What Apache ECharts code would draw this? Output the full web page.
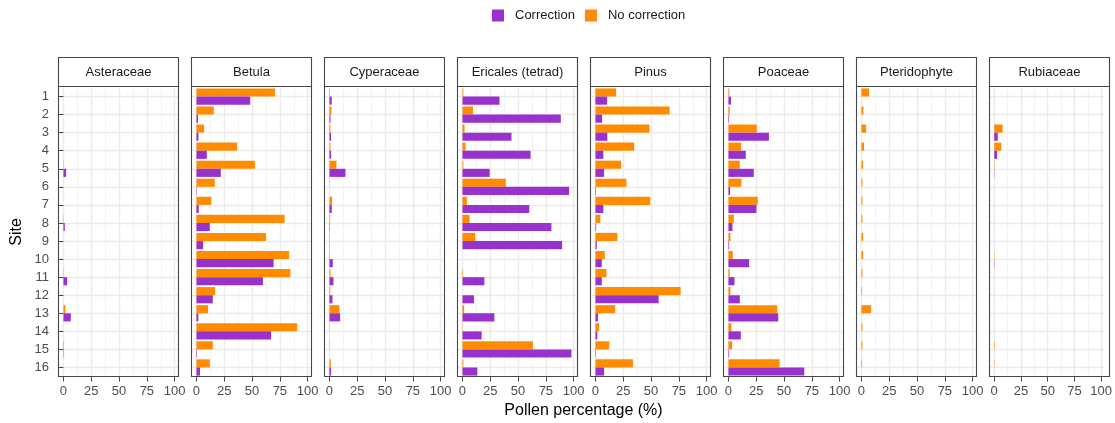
<!DOCTYPE html>
<html>
<head>
<meta charset="utf-8">
<script src="https://cdn.jsdelivr.net/npm/echarts@6/dist/echarts.min.js"></script>
<style>
  html, body { margin: 0; padding: 0; background: #ffffff; }
  #chart { width: 1115px; height: 423px; }
</style>
</head>
<body>
<div id="chart"></div>
<script>
// Sites (rows) and taxa (facets)
const sites = ['1','2','3','4','5','6','7','8','9','10','11','12','13','14','15','16'];
const taxa = ['Asteraceae','Betula','Cyperaceae','Ericales (tetrad)','Pinus','Poaceae','Pteridophyte','Rubiaceae'];

// Axis tick values (pollen percentage)
const xTicks = [0, 25, 50, 75, 100];
const xMinorTicks = [12.5, 37.5, 62.5, 87.5];

// Pollen percentage per site, with and without correction
const asteraceaeCorrection   = [0, 0, 0, 0, 2.4, 0, 0, 1.2, 0, 0, 3.3, 0, 6.6, 0, 0.3, 0];
const asteraceaeNoCorrection = [0, 0, 0, 0, 0.3, 0, 0, 0.3, 0, 0, 0.3, 0, 1.8, 0, 0.5, 0];

const betulaCorrection   = [48.4, 1.4, 1.8, 9.3, 21.9, 0.4, 2.1, 12.0, 6.0, 69.4, 59.8, 14.7, 1.7, 67.1, 0.5, 3.2];
const betulaNoCorrection = [70.7, 15.6, 6.9, 36.6, 52.6, 16.5, 13.4, 79.3, 62.5, 83.3, 84.5, 16.8, 10.5, 90.5, 14.7, 12.0];

const cyperaceaeCorrection   = [2.1, 0.9, 1.5, 1.5, 14.4, 0, 2.1, 0.4, 0.2, 3.0, 3.6, 2.7, 9.6, 0, 0, 1.5];
const cyperaceaeNoCorrection = [0.5, 1.8, 0.9, 0.9, 6.3, 0.2, 2.4, 0.6, 0.4, 0.5, 1.0, 0.7, 9.0, 0.3, 0.2, 1.2];

const ericalesCorrection   = [33.3, 88.4, 44.1, 61.3, 24.5, 95.9, 60.1, 80.0, 89.6, 0, 19.7, 10.4, 28.7, 17.3, 98.0, 13.4];
const ericalesNoCorrection = [0.8, 9.5, 1.9, 2.8, 0.8, 39.0, 4.0, 6.4, 11.5, 0, 0.5, 0, 1.6, 0.3, 63.4, 0.8];

const pinusCorrection   = [10.5, 6.0, 10.7, 7.1, 7.8, 0.5, 7.1, 0.6, 1.2, 5.7, 5.7, 56.8, 2.3, 1.7, 0.4, 7.8];
const pinusNoCorrection = [18.6, 66.7, 48.6, 34.8, 23.1, 27.9, 49.3, 4.4, 19.8, 8.4, 9.9, 76.6, 17.7, 3.2, 12.3, 33.7];

const poaceaeCorrection   = [2.3, 0.6, 36.4, 15.6, 22.8, 1.5, 25.2, 3.6, 0.6, 18.6, 5.4, 10.2, 44.8, 11.1, 0.6, 68.2];
const poaceaeNoCorrection = [0.8, 1.2, 25.5, 11.4, 10.2, 11.7, 26.4, 4.8, 1.8, 3.9, 1.2, 1.8, 43.9, 2.7, 3.3, 46.0];

const pteridophyteCorrection   = [0, 0, 0, 0, 0, 0, 0, 0, 0, 0, 0, 0, 0, 0, 0, 0];
const pteridophyteNoCorrection = [6.9, 1.8, 4.2, 2.4, 1.5, 0.9, 0.9, 0.9, 1.5, 1.5, 0.9, 0.6, 8.7, 0.9, 0.9, 0.6];

const rubiaceaeCorrection   = [0, 0, 3.3, 2.7, 0.3, 0, 0, 0, 0, 0.3, 0, 0, 0, 0, 0, 0];
const rubiaceaeNoCorrection = [0, 0, 7.8, 6.6, 0.4, 0, 0, 0, 0, 0.3, 0, 0, 0, 0, 0.5, 0.3];

const correctionByTaxon = [asteraceaeCorrection, betulaCorrection, cyperaceaeCorrection, ericalesCorrection,
  pinusCorrection, poaceaeCorrection, pteridophyteCorrection, rubiaceaeCorrection];
const noCorrectionByTaxon = [asteraceaeNoCorrection, betulaNoCorrection, cyperaceaeNoCorrection, ericalesNoCorrection,
  pinusNoCorrection, poaceaeNoCorrection, pteridophyteNoCorrection, rubiaceaeNoCorrection];

// Layout and styling
const FONT = '"Liberation Sans", Arial, Helvetica, sans-serif';
const COLOR_CORR = '#9932CC';
const COLOR_NOCORR = '#FF8C00';
const PANEL_LEFT0 = 58, PANEL_STEP = 133, PANEL_W = 120;
const STRIP_TOP = 57.5, PANEL_TOP = 86.5, PANEL_BOTTOM = 376.5;
const PLOT_TOP = 87.5, PLOT_H = 289;
const X_MIN = -4.9, X_MAX = 103;
const BORDER = '#474747';
const GRID_MAJOR = '#EBEBEB';
const GRID_MINOR = '#F0F0F0';

const grids = [], xAxes = [], yAxes = [], series = [], graphics = [];

taxa.forEach((taxon, i) => {
  const left = PANEL_LEFT0 + PANEL_STEP * i;
  grids.push({ left: left, top: PLOT_TOP, width: PANEL_W, height: PLOT_H, show: false });

  xAxes.push({
    gridIndex: i, type: 'value', min: X_MIN, max: X_MAX,
    axisLine: { show: false },
    splitLine: { show: false },
    axisTick: { show: true, customValues: xTicks, length: 5, lineStyle: { color: BORDER, width: 1 } },
    axisLabel: { customValues: xTicks, fontSize: 13, color: '#4d4d4d', margin: 8, fontFamily: FONT }
  });

  yAxes.push({
    gridIndex: i, type: 'category', data: sites, inverse: true,
    axisLine: { show: false },
    splitLine: { show: false },
    axisTick: { show: i === 0, alignWithLabel: true, length: 5, lineStyle: { color: BORDER, width: 1 } },
    axisLabel: { show: i === 0, interval: 0, fontSize: 13, color: '#4d4d4d', margin: 9, fontFamily: FONT },
    name: i === 0 ? 'Site' : '',
    nameLocation: 'middle', nameRotate: 90, nameGap: 33,
    nameTextStyle: { fontSize: 16, color: '#000000', fontFamily: FONT }
  });

  // Panel grid lines, drawn under the bars
  const lines = [];
  sites.forEach(s => lines.push({ yAxis: s, lineStyle: { color: GRID_MAJOR, width: 1.4, type: 'solid' } }));
  xTicks.forEach(v => lines.push({ xAxis: v, lineStyle: { color: GRID_MAJOR, width: 1.4, type: 'solid' } }));
  xMinorTicks.forEach(v => lines.push({ xAxis: v, lineStyle: { color: GRID_MINOR, width: 0.8, type: 'solid' } }));
  series.push({
    type: 'line', xAxisIndex: i, yAxisIndex: i, data: [], z: 0, silent: true,
    markLine: { z: 0, silent: true, symbol: 'none', animation: false, label: { show: false }, data: lines }
  });

  series.push({
    type: 'bar', name: 'No correction', xAxisIndex: i, yAxisIndex: i,
    data: noCorrectionByTaxon[i], itemStyle: { color: COLOR_NOCORR },
    barGap: '0%', barCategoryGap: '10%', z: 3
  });
  series.push({
    type: 'bar', name: 'Correction', xAxisIndex: i, yAxisIndex: i,
    data: correctionByTaxon[i], itemStyle: { color: COLOR_CORR },
    barGap: '0%', barCategoryGap: '10%', z: 3
  });

  // Facet strip
  graphics.push({
    type: 'rect', z: 10,
    shape: { x: left + 0.5, y: STRIP_TOP, width: PANEL_W, height: PANEL_TOP - STRIP_TOP },
    style: { fill: '#ffffff', stroke: BORDER, lineWidth: 1.1 }
  });
  graphics.push({
    type: 'text', z: 11, x: left + 0.5 + PANEL_W / 2, y: (STRIP_TOP + PANEL_TOP) / 2 + 0.5,
    style: { text: taxon, fontSize: 13, fontFamily: FONT, fill: '#1a1a1a', align: 'center', verticalAlign: 'middle' }
  });
  // Panel border
  graphics.push({
    type: 'rect', z: 10,
    shape: { x: left + 0.5, y: PANEL_TOP, width: PANEL_W, height: PANEL_BOTTOM - PANEL_TOP },
    style: { fill: 'none', stroke: BORDER, lineWidth: 1.1 }
  });
});

// Shared x-axis title
graphics.push({
  type: 'text', z: 11,
  x: (PANEL_LEFT0 + PANEL_LEFT0 + PANEL_STEP * (taxa.length - 1) + PANEL_W) / 2, y: 411,
  style: { text: 'Pollen percentage (%)', fontSize: 16, fontFamily: FONT, fill: '#000000', align: 'center', verticalAlign: 'middle' }
});

const chart = echarts.init(document.getElementById('chart'), null, { renderer: 'canvas' });
chart.setOption({
  animation: false,
  backgroundColor: '#ffffff',
  legend: {
    data: ['Correction', 'No correction'],
    top: 9, left: 492, padding: 0,
    itemWidth: 12, itemHeight: 12, itemGap: 10, icon: 'rect',
    textStyle: { fontSize: 13, color: '#1a1a1a', fontFamily: FONT, padding: [0, 0, 0, 6] }
  },
  grid: grids,
  xAxis: xAxes,
  yAxis: yAxes,
  series: series,
  graphic: graphics
});
</script>
</body>
</html>
